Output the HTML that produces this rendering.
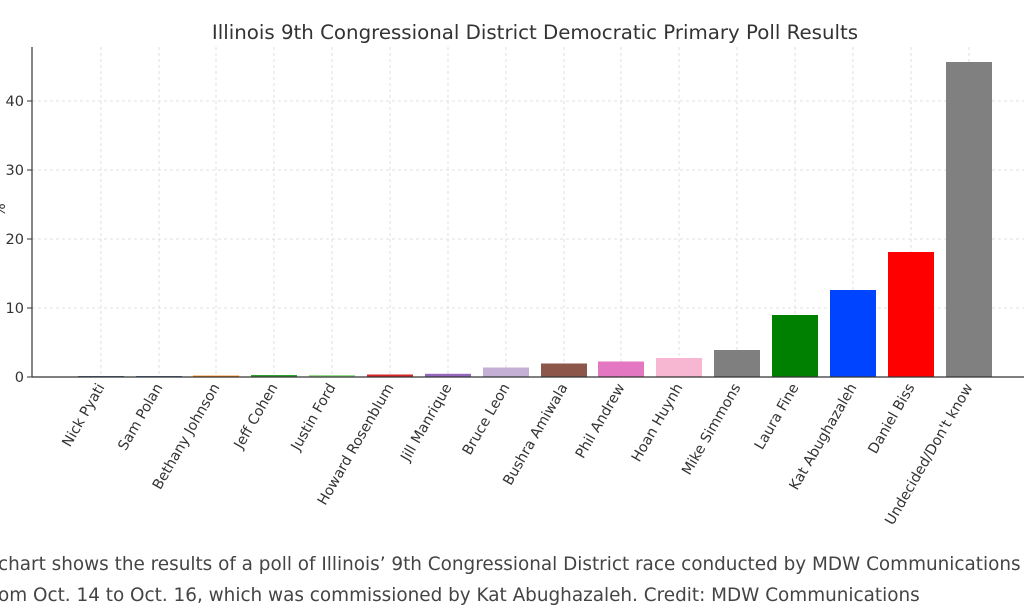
<!DOCTYPE html>
<html><head><style>
body{margin:0;background:#fff;width:1024px;height:613px;overflow:hidden;font-family:"Liberation Sans",sans-serif}
.cap{position:absolute;left:-2px;font-size:18.4px;color:#444;white-space:nowrap;font-family:"DejaVu Sans","Liberation Sans",sans-serif}
</style></head><body>
<svg width="1024" height="540" style="position:absolute;left:0;top:0" font-family="DejaVu Sans, Liberation Sans, sans-serif">
<text x="535" y="39" text-anchor="middle" font-size="19.8" fill="#333">Illinois 9th Congressional District Democratic Primary Poll Results</text>
<g stroke="#d8d8d8" stroke-dasharray="3,3" stroke-width="0.8">
<line x1="32" x2="1024" y1="308" y2="308"/><line x1="32" x2="1024" y1="239" y2="239"/><line x1="32" x2="1024" y1="170" y2="170"/><line x1="32" x2="1024" y1="101" y2="101"/>
<line x1="101" x2="101" y1="47" y2="377"/><line x1="159" x2="159" y1="47" y2="377"/><line x1="216" x2="216" y1="47" y2="377"/><line x1="274" x2="274" y1="47" y2="377"/><line x1="332" x2="332" y1="47" y2="377"/><line x1="390" x2="390" y1="47" y2="377"/><line x1="448" x2="448" y1="47" y2="377"/><line x1="506" x2="506" y1="47" y2="377"/><line x1="564" x2="564" y1="47" y2="377"/><line x1="621" x2="621" y1="47" y2="377"/><line x1="679" x2="679" y1="47" y2="377"/><line x1="737" x2="737" y1="47" y2="377"/><line x1="795" x2="795" y1="47" y2="377"/><line x1="853" x2="853" y1="47" y2="377"/><line x1="911" x2="911" y1="47" y2="377"/><line x1="969" x2="969" y1="47" y2="377"/>
</g>
<g>
<rect x="78" y="376" width="46" height="1" fill="#4a6e96"/>
<rect x="136" y="376" width="46" height="1" fill="#4a6e96"/>
<rect x="193" y="375.6" width="46" height="1.4" fill="#ff7f0e"/>
<rect x="251" y="375" width="46" height="2" fill="#2ca02c"/>
<rect x="309" y="375" width="46" height="2" fill="#98df8a"/>
<rect x="367" y="374.5" width="46" height="2.5" fill="#d62728"/>
<rect x="425" y="373.8" width="46" height="3.2" fill="#9467bd"/>
<rect x="483" y="367.5" width="46" height="9.5" fill="#c5b0d5"/>
<rect x="541" y="363.5" width="46" height="13.5" fill="#8c564b"/>
<rect x="598" y="361.5" width="46" height="15.5" fill="#e377c2"/>
<rect x="656" y="358" width="46" height="19" fill="#f7b6d2"/>
<rect x="714" y="350" width="46" height="27" fill="#7f7f7f"/>
<rect x="772" y="315" width="46" height="62" fill="#008000"/>
<rect x="830" y="290" width="46" height="87" fill="#0044ff"/>
<rect x="888" y="252" width="46" height="125" fill="#ff0000"/>
<rect x="946" y="62" width="46" height="315" fill="#808080"/>
</g>
<line x1="32" x2="1024" y1="377" y2="377" stroke="#333" stroke-width="1.2"/>
<line x1="32" x2="32" y1="47" y2="377" stroke="#333" stroke-width="1.2"/>
<g stroke="#333"><line x1="27" x2="32" y1="377" y2="377"/><line x1="27" x2="32" y1="308" y2="308"/><line x1="27" x2="32" y1="239" y2="239"/><line x1="27" x2="32" y1="170" y2="170"/><line x1="27" x2="32" y1="101" y2="101"/></g>
<g font-size="14.5" fill="#333" text-anchor="end"><text x="24" y="382">0</text><text x="24" y="313">10</text><text x="24" y="244">20</text><text x="24" y="175">30</text><text x="24" y="106">40</text></g>
<text transform="translate(5,210) rotate(-90)" font-size="14" fill="#333" text-anchor="middle">%</text>
<g font-size="14.2" fill="#333" text-anchor="end">
<text transform="translate(105,387) rotate(-60)">Nick Pyati</text>
<text transform="translate(163,387) rotate(-60)">Sam Polan</text>
<text transform="translate(220,387) rotate(-60)">Bethany Johnson</text>
<text transform="translate(278,387) rotate(-60)">Jeff Cohen</text>
<text transform="translate(336,387) rotate(-60)">Justin Ford</text>
<text transform="translate(394,387) rotate(-60)">Howard Rosenblum</text>
<text transform="translate(452,387) rotate(-60)">Jill Manrique</text>
<text transform="translate(510,387) rotate(-60)">Bruce Leon</text>
<text transform="translate(568,387) rotate(-60)">Bushra Amiwala</text>
<text transform="translate(625,387) rotate(-60)">Phil Andrew</text>
<text transform="translate(683,387) rotate(-60)">Hoan Huynh</text>
<text transform="translate(741,387) rotate(-60)">Mike Simmons</text>
<text transform="translate(799,387) rotate(-60)">Laura Fine</text>
<text transform="translate(857,387) rotate(-60)">Kat Abughazaleh</text>
<text transform="translate(915,387) rotate(-60)">Daniel Biss</text>
<text transform="translate(973,387) rotate(-60)">Undecided/Don't know</text>
</g>
</svg>
<div class="cap" style="top:554px">chart shows the results of a poll of Illinois’ 9th Congressional District race conducted by MDW Communications</div>
<div class="cap" style="top:585px">om Oct. 14 to Oct. 16, which was commissioned by Kat Abughazaleh. Credit: MDW Communications</div>
</body></html>
